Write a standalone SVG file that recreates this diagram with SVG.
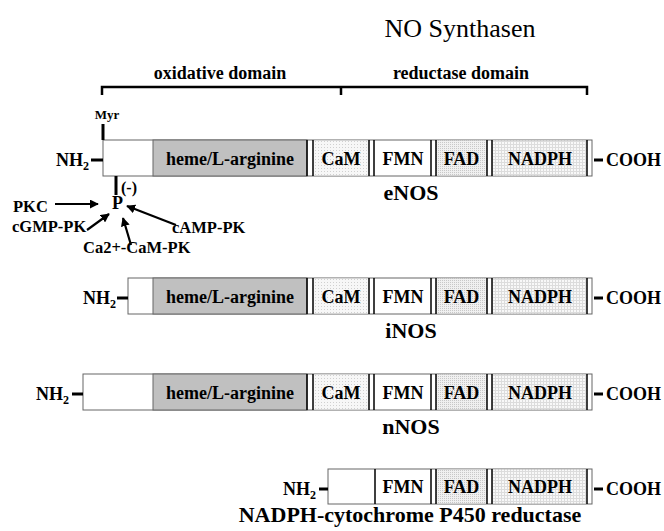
<svg xmlns="http://www.w3.org/2000/svg" width="664" height="531" viewBox="0 0 664 531" font-family="Liberation Serif, Tinos, Times New Roman, DejaVu Serif, serif">
<defs>
<pattern id="dotsL" width="3" height="3" patternUnits="userSpaceOnUse"><rect width="3" height="3" fill="#f7f7f7"/><rect width="1" height="1" fill="#d0d0d0"/></pattern>
<pattern id="dotsD" width="2" height="2" patternUnits="userSpaceOnUse"><rect width="2" height="2" fill="#f0f0f0"/><rect width="1" height="1" fill="#c8c8c8"/></pattern>
<pattern id="grid" width="3" height="3" patternUnits="userSpaceOnUse"><rect width="3" height="3" fill="#f8f8f8"/><rect width="3" height="1" fill="#dcdcdc"/><rect width="1" height="3" fill="#dcdcdc"/></pattern>
<marker id="ah" viewBox="0 0 10 10" refX="9" refY="5" markerWidth="9" markerHeight="9" markerUnits="userSpaceOnUse" orient="auto"><path d="M0,0 L10,5 L0,10 Z" fill="#000"/></marker>
</defs>
<style>
text{font-family:"Liberation Serif","Tinos","Times New Roman","DejaVu Serif",serif;font-weight:bold;fill:#000}
.title{font-weight:normal;font-size:26px;text-anchor:middle}
.t18{font-size:18px}
.lab{font-size:22px;text-anchor:middle}
.c{text-anchor:middle}
.sm{font-size:16.5px}
.box{stroke:#666;stroke-width:1}
.sep{stroke:#000;stroke-width:1.5}
.dash{stroke:#000;stroke-width:3}
.conn{stroke:#000;stroke-width:2.2;fill:none;marker-end:url(#ah)}
.br{stroke:#000;stroke-width:2.5;fill:none}
</style>
<rect width="664" height="531" fill="#fff"/>
<text class="title" x="460" y="37">NO Synthasen</text>

<g id="domains">
<path class="br" d="M102,95 V87 H587 V95 M341,87 V95"/>
<text class="t18 c" x="220" y="79">oxidative domain</text>
<text class="t18 c" x="461" y="79">reductase domain</text>
</g>

<g id="eNOS">
<rect class="box" x="103" y="140" width="489" height="36" fill="#fff"/>
<rect class="box" x="153" y="140" width="154" height="36" fill="#c0c0c0"/>
<rect x="313" y="140.5" width="56" height="35" fill="url(#dotsL)"/>
<rect x="436" y="140.5" width="51" height="35" fill="url(#dotsD)"/>
<rect x="492" y="140.5" width="95" height="35" fill="url(#grid)"/>
<path class="sep" d="M307,140V176M313,140V176M369,140V176M374,140V176M431,140V176M436,140V176M487,140V176M492,140V176M587,140V176"/>
<text class="t18 c" x="230" y="165">heme/L-arginine</text>
<text class="t18 c" x="341" y="165">CaM</text>
<text class="t18 c" x="403" y="165">FMN</text>
<text class="t18 c" x="461.5" y="165">FAD</text>
<text class="t18 c" x="540" y="165">NADPH</text>
<line class="dash" x1="91" y1="160" x2="103" y2="160"/>
<text class="t18" x="56" y="166">NH<tspan font-size="12" dy="4">2</tspan></text>
<line class="dash" x1="594" y1="160" x2="603" y2="160"/>
<text class="t18" x="606" y="166">COOH</text>
<text class="lab" x="411" y="200">eNOS</text>
<line class="dash" x1="103" y1="124" x2="103" y2="140"/>
<text x="107" y="119" style="font-size:13px" text-anchor="middle">Myr</text>
<line class="dash" x1="116" y1="176" x2="116" y2="195"/>
<text x="121" y="193" style="font-size:16px">(-)</text>
</g>

<g id="P"><text class="t18" x="112" y="209">P</text></g>
<g id="PKC"><text class="sm" x="13" y="212">PKC</text></g>
<g id="cGMP-PK"><text class="sm" x="12" y="232">cGMP-PK</text></g>
<g id="Ca-CaM-PK"><text class="sm" x="83" y="253">Ca2+-CaM-PK</text></g>
<g id="cAMP-PK"><text class="sm" x="172" y="233">cAMP-PK</text></g>

<g id="connectors">
<line class="conn" x1="55" y1="204" x2="98" y2="204"/>
<line class="conn" x1="87" y1="230" x2="109" y2="214"/>
<line class="conn" x1="131" y1="245" x2="123" y2="218"/>
<line class="conn" x1="176" y1="225" x2="127" y2="206"/>
</g>

<g id="iNOS">
<rect class="box" x="128" y="278" width="464" height="36" fill="#fff"/>
<rect class="box" x="153" y="278" width="154" height="36" fill="#c0c0c0"/>
<rect x="313" y="278.5" width="56" height="35" fill="url(#dotsL)"/>
<rect x="436" y="278.5" width="51" height="35" fill="url(#dotsD)"/>
<rect x="492" y="278.5" width="95" height="35" fill="url(#grid)"/>
<path class="sep" d="M307,278V314M313,278V314M369,278V314M374,278V314M431,278V314M436,278V314M487,278V314M492,278V314M587,278V314"/>
<text class="t18 c" x="230" y="303">heme/L-arginine</text>
<text class="t18 c" x="341" y="303">CaM</text>
<text class="t18 c" x="403" y="303">FMN</text>
<text class="t18 c" x="461.5" y="303">FAD</text>
<text class="t18 c" x="540" y="303">NADPH</text>
<line class="dash" x1="117" y1="298" x2="128" y2="298"/>
<text class="t18" x="83" y="304">NH<tspan font-size="12" dy="4">2</tspan></text>
<line class="dash" x1="594" y1="298" x2="603" y2="298"/>
<text class="t18" x="606" y="304">COOH</text>
<text class="lab" x="411" y="338">iNOS</text>
</g>

<g id="nNOS">
<rect class="box" x="83" y="374" width="509" height="36" fill="#fff"/>
<rect class="box" x="153" y="374" width="154" height="36" fill="#c0c0c0"/>
<rect x="313" y="374.5" width="56" height="35" fill="url(#dotsL)"/>
<rect x="436" y="374.5" width="51" height="35" fill="url(#dotsD)"/>
<rect x="492" y="374.5" width="95" height="35" fill="url(#grid)"/>
<path class="sep" d="M307,374V410M313,374V410M369,374V410M374,374V410M431,374V410M436,374V410M487,374V410M492,374V410M587,374V410"/>
<text class="t18 c" x="230" y="399">heme/L-arginine</text>
<text class="t18 c" x="341" y="399">CaM</text>
<text class="t18 c" x="403" y="399">FMN</text>
<text class="t18 c" x="461.5" y="399">FAD</text>
<text class="t18 c" x="540" y="399">NADPH</text>
<line class="dash" x1="72" y1="394" x2="83" y2="394"/>
<text class="t18" x="36" y="400">NH<tspan font-size="12" dy="4">2</tspan></text>
<line class="dash" x1="594" y1="394" x2="603" y2="394"/>
<text class="t18" x="606" y="400">COOH</text>
<text class="lab" x="411" y="434">nNOS</text>
</g>

<g id="P450">
<rect class="box" x="328" y="469" width="264" height="35" fill="#fff"/>
<rect x="436" y="469.5" width="51" height="34" fill="url(#dotsD)"/>
<rect x="492" y="469.5" width="95" height="34" fill="url(#grid)"/>
<path class="sep" d="M375,469V504M431,469V504M436,469V504M487,469V504M492,469V504M587,469V504"/>
<text class="t18 c" x="403" y="493">FMN</text>
<text class="t18 c" x="461.5" y="493">FAD</text>
<text class="t18 c" x="540" y="493">NADPH</text>
<line class="dash" x1="319" y1="489" x2="328" y2="489"/>
<text class="t18" x="283" y="495">NH<tspan font-size="12" dy="4">2</tspan></text>
<line class="dash" x1="594" y1="489" x2="603" y2="489"/>
<text class="t18" x="606" y="495">COOH</text>
<text class="lab" x="410" y="522">NADPH-cytochrome P450 reductase</text>
</g>
</svg>
